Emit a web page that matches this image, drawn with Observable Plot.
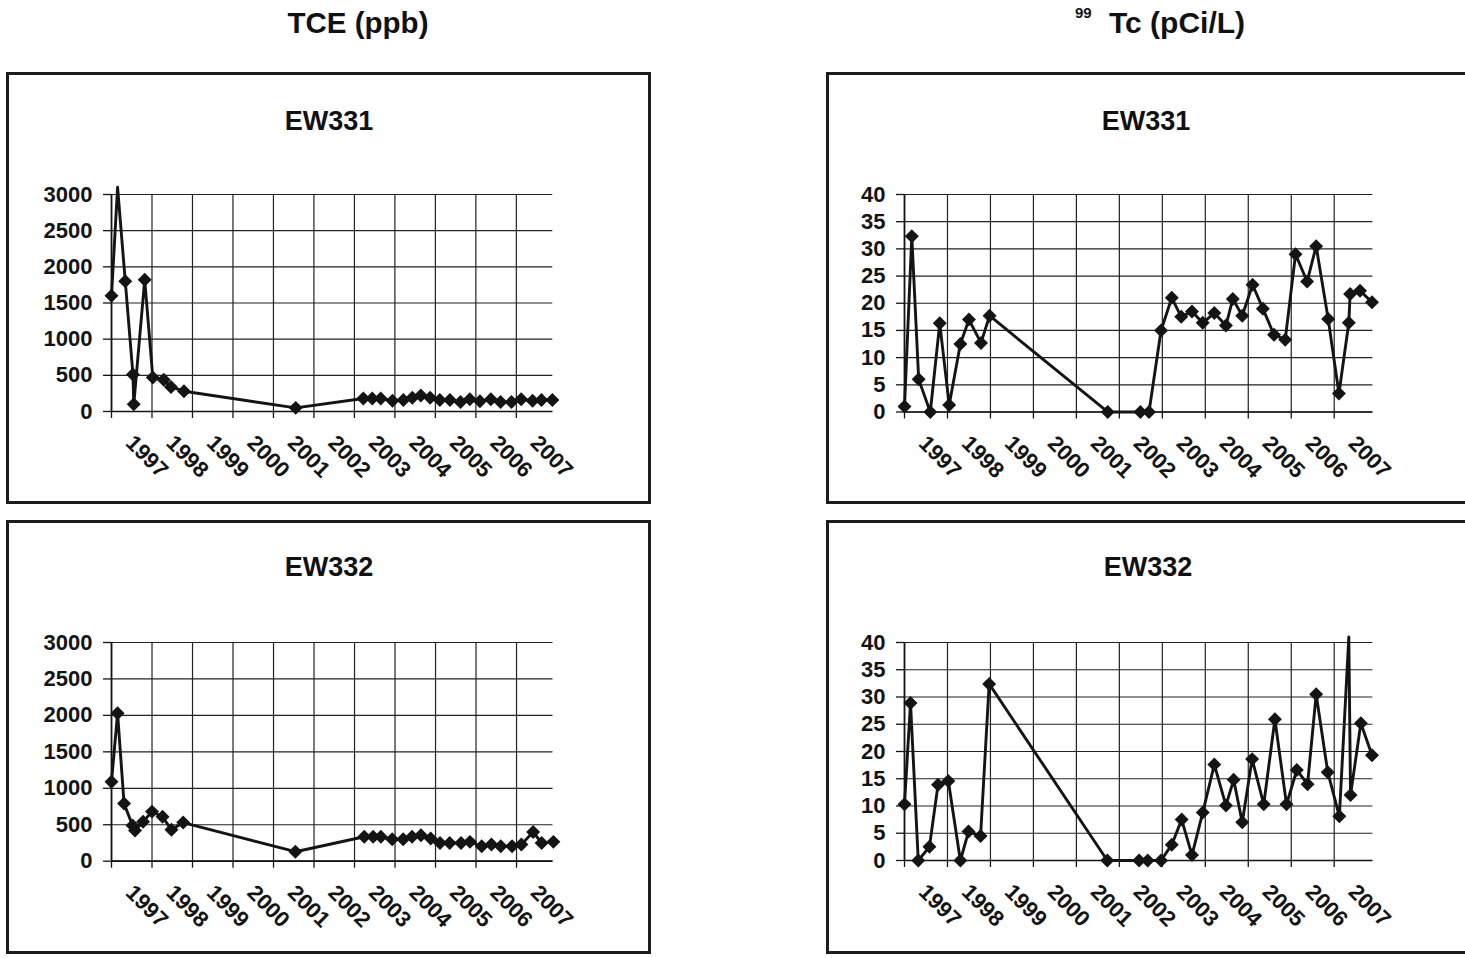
<!DOCTYPE html>
<html><head><meta charset="utf-8">
<script src="https://cdn.jsdelivr.net/npm/d3@7"></script>
<script src="https://cdn.jsdelivr.net/npm/@observablehq/plot@0.6"></script>
<style>
html,body{margin:0;padding:0;background:#fff;overflow:hidden;}
#page{position:relative;width:1465px;height:958px;overflow:hidden;font-family:"Liberation Sans",Arial,sans-serif;font-weight:bold;color:#111;}
.frame{position:absolute;border:3px solid #1c1c1c;box-sizing:border-box;}
.t{position:absolute;white-space:nowrap;line-height:1;}
</style></head><body><div id="page"></div>
<script>
// ---- tick labels ----
const yearTicks = [1997, 1998, 1999, 2000, 2001, 2002, 2003, 2004, 2005, 2006, 2007];
const tceTicks = [0, 500, 1000, 1500, 2000, 2500, 3000];
const tcTicks = [0, 5, 10, 15, 20, 25, 30, 35, 40];

// ---- TCE (ppb), EW331 ----
const ew331TceDates = [1997.00, 1997.15, 1997.34, 1997.53, 1997.55, 1997.82, 1998.02, 1998.29, 1998.47, 1998.79, 2001.55,
  2003.22, 2003.44, 2003.65, 2003.94, 2004.21, 2004.43, 2004.64, 2004.87, 2005.11, 2005.36, 2005.62, 2005.85,
  2006.10, 2006.37, 2006.61, 2006.88, 2007.12, 2007.40, 2007.62, 2007.89];
const ew331TceValues = [1600, 3100, 1800, 510, 100, 1820, 470, 440, 340, 280, 50,
  180, 180, 180, 150, 160, 190, 220, 190, 160, 160, 130, 170,
  140, 170, 130, 130, 170, 150, 160, 160];

// ---- TCE (ppb), EW332 ----
const ew332TceDates = [1997.00, 1997.15, 1997.31, 1997.52, 1997.58, 1997.78, 1998.00, 1998.26, 1998.48, 1998.77, 2001.54,
  2003.24, 2003.46, 2003.65, 2003.93, 2004.20, 2004.42, 2004.64, 2004.88, 2005.11, 2005.35, 2005.63, 2005.85,
  2006.14, 2006.38, 2006.61, 2006.89, 2007.12, 2007.41, 2007.62, 2007.91];
const ew332TceValues = [1090, 2030, 790, 490, 420, 540, 680, 610, 430, 530, 130,
  335, 335, 335, 300, 300, 335, 355, 310, 250, 250, 250, 265,
  205, 230, 205, 205, 230, 400, 250, 265];

// ---- 99Tc (pCi/L), EW331 ----
const ew331TcDates = [1997.00, 1997.17, 1997.33, 1997.60, 1997.82, 1998.04, 1998.30, 1998.50, 1998.78, 1998.98,
  2001.73, 2002.49, 2002.69, 2002.97, 2003.22, 2003.44, 2003.69, 2003.94, 2004.21, 2004.48, 2004.64, 2004.86,
  2005.10, 2005.34, 2005.60, 2005.86, 2006.10, 2006.37, 2006.58, 2006.86, 2007.11, 2007.34, 2007.37, 2007.60, 2007.88];
const ew331TcValues = [1.0, 32.3, 6.0, 0, 16.3, 1.3, 12.5, 17.0, 12.7, 17.7,
  0, 0, 0, 15.0, 21.0, 17.5, 18.5, 16.4, 18.2, 15.9, 20.8, 17.7,
  23.4, 19.0, 14.2, 13.3, 29.0, 24.0, 30.5, 17.1, 3.4, 16.4, 21.7, 22.3, 20.2];

// ---- 99Tc (pCi/L), EW332 ----
const ew332TcDates = [1997.00, 1997.14, 1997.32, 1997.58, 1997.78, 1998.02, 1998.30, 1998.49, 1998.77, 1998.97,
  2001.72, 2002.46, 2002.66, 2002.97, 2003.22, 2003.45, 2003.69, 2003.94, 2004.21, 2004.48, 2004.66, 2004.86,
  2005.09, 2005.36, 2005.62, 2005.89, 2006.13, 2006.38, 2006.58, 2006.85, 2007.12, 2007.34, 2007.38, 2007.62, 2007.88];
const ew332TcValues = [10.3, 28.9, 0, 2.5, 13.9, 14.6, 0, 5.3, 4.5, 32.4,
  0, 0, 0, 0, 2.9, 7.5, 1.0, 8.8, 17.6, 10.1, 14.8, 7.0,
  18.6, 10.3, 25.9, 10.3, 16.6, 14.0, 30.5, 16.2, 8.1, 41.0, 12.0, 25.2, 19.3];

const page = document.getElementById("page");
const FONT = '"Liberation Sans", Arial, Helvetica, sans-serif';

function addDiv(cls, css, html) {
  const d = document.createElement("div");
  d.className = cls;
  Object.assign(d.style, css);
  if (html !== undefined) d.innerHTML = html;
  page.appendChild(d);
  return d;
}

// frames
addDiv("frame", {left: "6px", top: "72px", width: "645px", height: "432px"});
addDiv("frame", {left: "6px", top: "520px", width: "645px", height: "434px"});
addDiv("frame", {left: "826px", top: "72px", width: "700px", height: "432px"});
addDiv("frame", {left: "826px", top: "520px", width: "700px", height: "434px"});

// column headers
addDiv("t", {left: "158px", width: "400px", textAlign: "center", top: "8px", fontSize: "29.5px"}, "TCE (ppb)");
addDiv("t", {left: "1075px", top: "4.5px", fontSize: "15px"}, "99");
addDiv("t", {left: "977px", width: "400px", textAlign: "center", top: "7.5px", fontSize: "30px"}, "Tc (pCi/L)");

// panel titles
addDiv("t", {left: "129px", width: "400px", textAlign: "center", top: "107.5px", fontSize: "27px"}, "EW331");
addDiv("t", {left: "129px", width: "400px", textAlign: "center", top: "553.5px", fontSize: "27px"}, "EW332");
addDiv("t", {left: "946px", width: "400px", textAlign: "center", top: "107.5px", fontSize: "27px"}, "EW331");
addDiv("t", {left: "948px", width: "400px", textAlign: "center", top: "553.5px", fontSize: "27px"}, "EW332");

function panel({dates, values, ticks, yMax, px0, px1, py0, py1}) {
  const data = dates.map((t, i) => ({t, v: values[i]}));
  const ml = 100, mr = 60, mt = 40, mb = 95;
  const ink = "#141414";
  const chart = Plot.plot({
    width: ml + (px1 - px0) + mr,
    height: mt + (py1 - py0) + mb,
    marginLeft: ml, marginRight: mr, marginTop: mt, marginBottom: mb,
    style: {fontFamily: FONT, fontWeight: "bold", fontSize: "21px", color: ink, background: "transparent", overflow: "visible"},
    x: {domain: [1997, 2007.9]},
    y: {domain: [0, yMax]},
    marks: [
      Plot.gridX(yearTicks, {stroke: "#222", strokeOpacity: 1, strokeWidth: 1.2}),
      Plot.gridY(ticks, {stroke: "#222", strokeOpacity: 1, strokeWidth: 1.2}),
      Plot.axisY(ticks, {tickSize: 8, tickPadding: 11, label: null, tickFormat: d => String(d),
        fontSize: 22, fill: ink, stroke: ink, strokeWidth: 1.3}),
      Plot.axisX(yearTicks, {tickSize: 7, label: null, tickFormat: () => "", stroke: ink, strokeWidth: 1.3}),
      Plot.axisX(yearTicks, {tickSize: 0, tickRotate: 45, label: null, tickFormat: d => String(d),
        fontSize: 22, fill: ink, dx: 18, dy: 16}),
      Plot.ruleX([1997], {stroke: ink, strokeWidth: 1.7}),
      Plot.ruleY([0], {stroke: ink, strokeWidth: 1.7}),
      Plot.line(data, {x: "t", y: "v", stroke: ink, strokeWidth: 2.9}),
      Plot.dot(data, {x: "t", y: "v", symbol: "diamond2", r: 6.3, fill: ink, stroke: "none",
        filter: d => d.v <= yMax})
    ]
  });
  chart.style.position = "absolute";
  chart.style.left = (px0 - ml) + "px";
  chart.style.top = (py0 - mt) + "px";
  page.appendChild(chart);
}

panel({dates: ew331TceDates, values: ew331TceValues, ticks: tceTicks, yMax: 3000, px0: 110.7, px1: 552, py0: 194, py1: 411});
panel({dates: ew332TceDates, values: ew332TceValues, ticks: tceTicks, yMax: 3000, px0: 110.5, px1: 552, py0: 642.3, py1: 861});
panel({dates: ew331TcDates, values: ew331TcValues, ticks: tcTicks, yMax: 40, px0: 904, px1: 1372.4, py0: 194, py1: 411.5});
panel({dates: ew332TcDates, values: ew332TcValues, ticks: tcTicks, yMax: 40, px0: 904, px1: 1372.4, py0: 642, py1: 860});
</script>
</body></html>
